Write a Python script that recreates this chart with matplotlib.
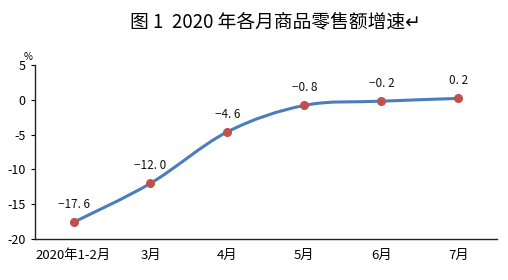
import matplotlib
matplotlib.use("Agg")
import matplotlib.pyplot as plt
from matplotlib.path import Path
from matplotlib.patches import PathPatch
import numpy as np

plt.rcParams['font.family'] = ['Noto Sans CJK SC', 'DejaVu Sans']

categories = ["2020年1-2月", "3月", "4月", "5月", "6月", "7月"]
values = [-17.6, -12.0, -4.6, -0.8, -0.2, 0.2]
labels = ["\u221217. 6", "\u221212. 0", "\u22124. 6", "\u22120. 8", "\u22120. 2", "0. 2"]
yticks = [5, 0, -5, -10, -15, -20]
ytick_labels = ["5", "0", "-5", "-10", "-15", "-20"]
title = "图 1  2020 年各月商品零售额增速\u21b5"

fig = plt.figure(figsize=(5.08, 2.8), dpi=100)
ax = fig.add_axes([0.069, 0.1464, 0.909, 0.6214])

x = np.arange(len(values), dtype=float)
y = np.array(values)

# Catmull-Rom smooth curve as Bezier path
verts = [(x[0], y[0])]
codes = [Path.MOVETO]
n = len(x)
for i in range(n - 1):
    p0 = (x[i - 1], y[i - 1]) if i > 0 else (x[i], y[i])
    p1 = (x[i], y[i])
    p2 = (x[i + 1], y[i + 1])
    p3 = (x[i + 2], y[i + 2]) if i + 2 < n else (x[i + 1], y[i + 1])
    t = 1 / 6
    c1 = (p1[0] + (p2[0] - p0[0]) * t, p1[1] + (p2[1] - p0[1]) * t)
    c2 = (p2[0] - (p3[0] - p1[0]) * t, p2[1] - (p3[1] - p1[1]) * t)
    verts += [c1, c2, p2]
    codes += [Path.CURVE4] * 3
ax.add_patch(PathPatch(Path(verts, codes), facecolor='none', edgecolor='#4a7ebb', lw=2.2, zorder=2))
ax.plot(x, y, 'o', color='#c0504d', markersize=5.5, zorder=3)

for xi, yi, lab in zip(x, y, labels):
    ax.annotate(lab, (xi, yi), xytext=(0, 8), textcoords='offset points', ha='center', va='bottom',
                fontsize=8.5, color='#111111')

ax.set_xlim(-0.5, 5.5)
ax.set_ylim(-20, 5)
ax.set_yticks(yticks)
ax.set_yticklabels(ytick_labels, fontsize=9)
ax.set_xticks(x)
ax.set_xticklabels(categories, fontsize=9.5)
ax.tick_params(axis='x', length=0, pad=7)
ax.tick_params(axis='y', length=3, width=0.8, pad=4)
for s in ['top', 'right']:
    ax.spines[s].set_visible(False)
for s in ['left', 'bottom']:
    ax.spines[s].set_linewidth(1.0)
    ax.spines[s].set_color('#222222')

fig.text(28 / 508, 1 - 57 / 280, "%", fontsize=7, ha='center', va='center')
fig.text(275 / 508, 1 - 22 / 280, title, fontsize=13.5, ha='center', va='center')

fig.savefig("out.png", dpi=100)
